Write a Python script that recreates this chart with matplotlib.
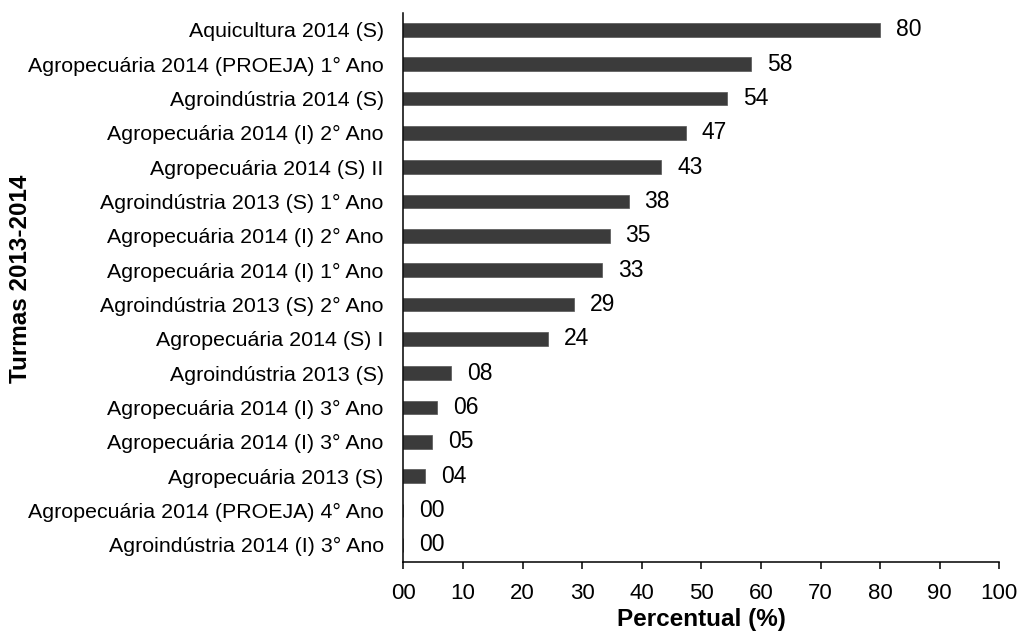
import numpy as np
import matplotlib.pyplot as plt

plt.rcParams['font.family'] = ['Liberation Sans', 'DejaVu Sans']

turmas = [
    "Aquicultura 2014 (S)",
    "Agropecuária 2014 (PROEJA) 1° Ano",
    "Agroindústria 2014 (S)",
    "Agropecuária 2014 (I) 2° Ano",
    "Agropecuária 2014 (S) II",
    "Agroindústria 2013 (S) 1° Ano",
    "Agropecuária 2014 (I) 2° Ano",
    "Agropecuária 2014 (I) 1° Ano",
    "Agroindústria 2013 (S) 2° Ano",
    "Agropecuária 2014 (S) I",
    "Agroindústria 2013 (S)",
    "Agropecuária 2014 (I) 3° Ano",
    "Agropecuária 2014 (I) 3° Ano",
    "Agropecuária 2013 (S)",
    "Agropecuária 2014 (PROEJA) 4° Ano",
    "Agroindústria 2014 (I) 3° Ano",
]
percentual = [80.0, 58.3, 54.3, 47.4, 43.3, 37.8, 34.6, 33.3, 28.6, 24.2,
              8.0, 5.6, 4.8, 3.7, 0.0, 0.0]
xticks = [0, 10, 20, 30, 40, 50, 60, 70, 80, 90, 100]

fig = plt.figure(figsize=(10.21, 6.34), dpi=100)
ax = fig.add_axes([0.395, 0.1136, 0.9788 - 0.395, 0.98 - 0.1136])

pos = np.arange(len(turmas))[::-1]
ax.barh(pos, percentual, height=0.39, color='#3b3b3b', edgecolor='#555555', linewidth=0.5)

for p, v in zip(pos, percentual):
    ax.annotate(f"{round(v):02d}", (v, p), xytext=(11.5, 0), textcoords='offset points',
                ha='left', va='center', fontsize=16.5)

ax.set_xlim(0, 100)
ax.set_ylim(-0.5, len(turmas) - 0.5)
ax.set_xticks(xticks)
ax.set_xticklabels([f"{t:02d}" for t in xticks], fontsize=16)
ax.set_yticks(pos)
ax.set_yticklabels(turmas, fontsize=15.4)
ax.tick_params(axis='y', length=0, pad=14)
ax.tick_params(axis='x', length=5, width=1.1, direction='out', pad=10)

for s in ['top', 'right']:
    ax.spines[s].set_visible(False)
for s in ['left', 'bottom']:
    ax.spines[s].set_linewidth(1.1)

ax.set_xlabel("Percentual (%)", fontsize=17.5, fontweight='bold', labelpad=3)
ax.set_ylabel("Turmas 2013-2014", fontsize=17.5, fontweight='bold')
ax.yaxis.set_label_coords(-0.623, 0.515)

fig.savefig("out.png", dpi=100)
